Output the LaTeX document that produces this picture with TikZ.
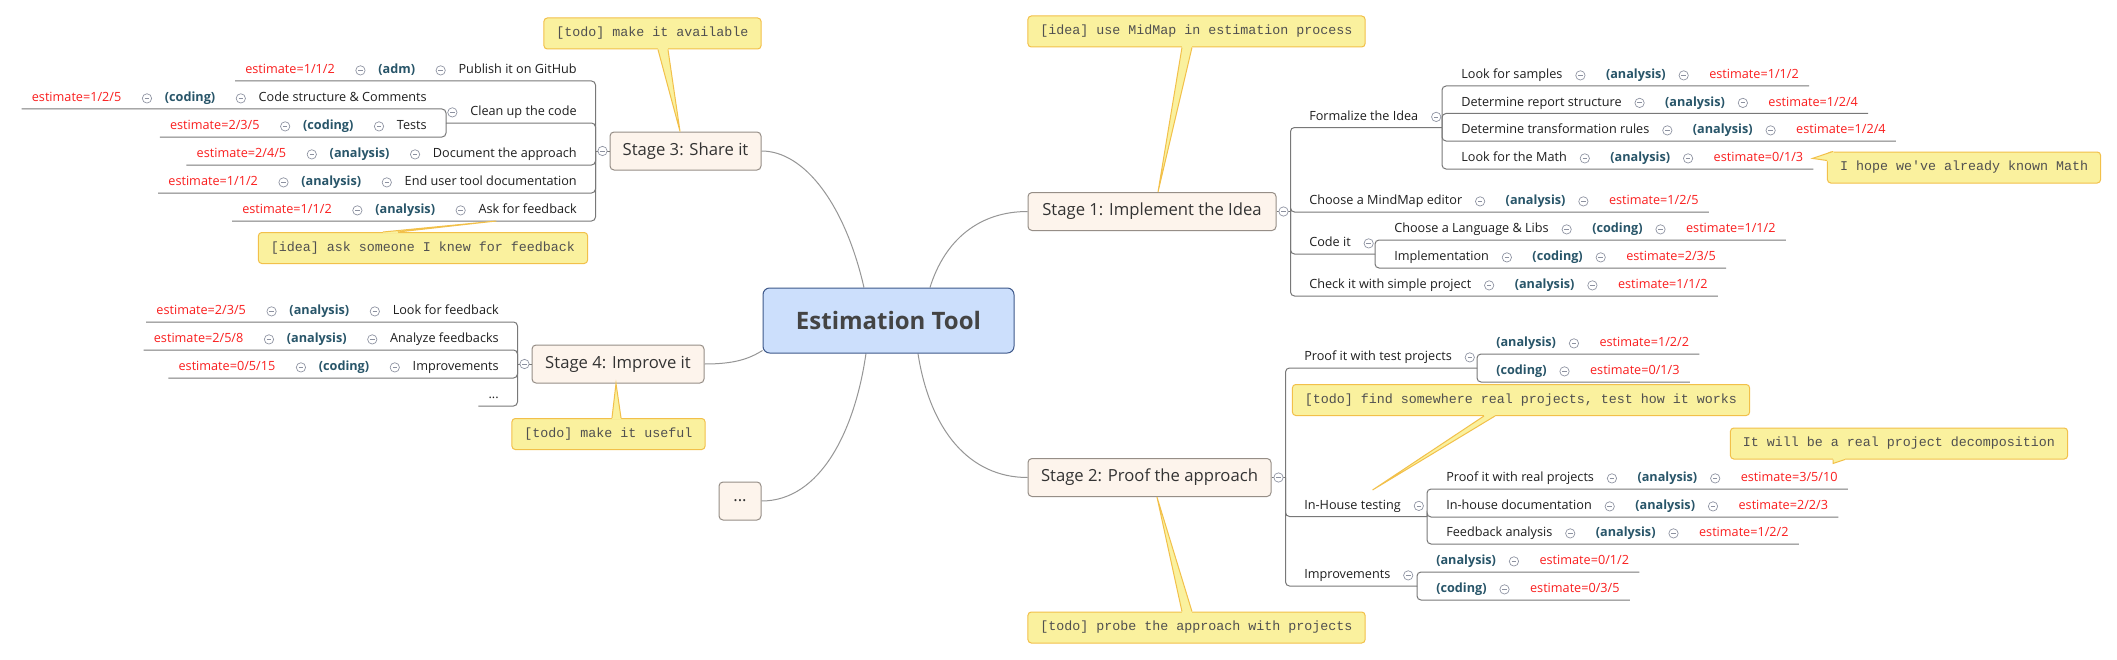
\documentclass[tikz,border=0pt]{standalone}
\usepackage{fontspec}
\setmainfont{Open Sans}
\setmonofont{Liberation Mono}
\usepackage{tikz}
\usetikzlibrary{positioning}
\usetikzlibrary{backgrounds}

\definecolor{centerfill}{RGB}{204,223,252}
\definecolor{centerbord}{RGB}{62,88,138}
\definecolor{centertext}{RGB}{68,68,68}
\definecolor{stagefill}{RGB}{253,244,236}
\definecolor{stagebord}{RGB}{150,142,135}
\definecolor{stagetext}{RGB}{51,51,51}
\definecolor{notefill}{RGB}{250,241,158}
\definecolor{notebord}{RGB}{242,192,74}
\definecolor{notetext}{RGB}{80,80,80}
\definecolor{tagcol}{RGB}{40,85,105}
\definecolor{estcol}{RGB}{250,30,30}
\definecolor{rowtext}{RGB}{30,30,30}
\definecolor{linecol}{RGB}{120,120,120}
\definecolor{linkcol}{RGB}{150,150,150}
\definecolor{btncol}{RGB}{140,145,160}

\tikzset{rowtxt/.style={font=\fontsize{9.5}{11}\selectfont, inner xsep=0pt, inner ysep=3.25pt,
  text height=7pt, text depth=2pt, text=rowtext}}
\tikzset{rowtag/.style={rowtxt, font=\fontsize{9.5}{11}\selectfont\bfseries, text=tagcol}}
\tikzset{rowest/.style={rowtxt, text=estcol}}
\tikzset{btn/.style={circle, draw=btncol, fill=white, line width=0.5pt, minimum size=7pt, inner sep=0pt,
  path picture={\draw[btncol, line width=0.6pt] ([xshift=-1.7pt]path picture bounding box.center)
  -- ([xshift=1.7pt]path picture bounding box.center);}}}
\tikzset{branch/.style={draw=linecol, line width=0.75pt, rounded corners=3pt}}
\tikzset{link/.style={draw=linkcol, line width=0.75pt}}
\tikzset{stagebox/.style={draw=stagebord, fill=stagefill, rounded corners=3pt, line width=0.75pt,
  font=\fontsize{12.5}{15}\selectfont, text=stagetext, minimum height=28.5pt, inner xsep=0pt}}
\tikzset{centerbox/.style={draw=centerbord, fill=centerfill, rounded corners=5pt, line width=0.75pt,
  minimum width=188.25pt, minimum height=48.75pt, font=\fontsize{18}{22}\selectfont\bfseries, text=centertext}}
\tikzset{notebox/.style={draw=notebord, fill=notefill, rounded corners=2.5pt, line width=0.75pt,
  font=\ttfamily\fontsize{10}{12}\selectfont, text=notetext, minimum height=23.25pt, inner xsep=9.4pt}}
\tikzset{notepin/.style={draw=notebord, line width=0.75pt}}

% one row of a branch on the left side: text, tag, estimate
\newcommand{\rowleft}[6]{%
  \node[rowtxt, anchor=south east] (t#1) at #2 {#3};
  \node[btn, left=9.5pt of t#1] (b#1) {};
  \node[rowtag, left=15.25pt of b#1] (g#1) {#4};
  \node[btn, left=9.5pt of g#1] (c#1) {};
  \node[rowest, left=15.25pt of c#1] (e#1) {#5};
  \draw[branch] ([xshift=-7.5pt]e#1.south west) -- (#6 |- e#1.south) -- (#6);
}
% one row on the right side
\newcommand{\rowright}[6]{%
  \node[rowtxt, anchor=south west] (t#1) at #2 {#3};
  \node[btn, right=9.5pt of t#1] (b#1) {};
  \node[rowtag, right=15.25pt of b#1] (g#1) {#4};
  \node[btn, right=9.5pt of g#1] (c#1) {};
  \node[rowest, right=15.25pt of c#1] (e#1) {#5};
  \draw[branch] ([xshift=7.5pt]e#1.south east) -- (#6 |- e#1.south) -- (#6);
}
% row with only a tag and an estimate
\newcommand{\tagright}[5]{%
  \node[rowtag, anchor=south west] (g#1) at #2 {#3};
  \node[btn, right=9.5pt of g#1] (c#1) {};
  \node[rowest, right=15.25pt of c#1] (e#1) {#4};
  \draw[branch] ([xshift=7.5pt]e#1.south east) -- (#5 |- e#1.south) -- (#5);
}
% pointer of a note: base a, base b, tip, shift into the note
\newcommand{\pin}[4]{%
  \fill[notefill] ([#4]#1) -- (#1) -- (#3) -- (#2) -- ([#4]#2) -- cycle;
  \draw[notepin] (#1) -- (#3) -- (#2);
}

\begin{document}
\begin{tikzpicture}[x=0.75pt,y=-0.75pt]
\useasboundingbox (0,0) rectangle (2117,660);

% topics
\node[centerbox] (C) at (888.5,320.5) {Estimation Tool};
\node[stagebox, minimum width=186pt] (S1) at (1152,211.5) {Stage 1: Implement the Idea};
\node[stagebox, minimum width=182.25pt] (S2) at (1149.5,477.5) {Stage 2: Proof the approach};
\node[stagebox, minimum width=113.25pt] (S3) at (685.5,151) {Stage 3: Share it};
\node[stagebox, minimum width=129pt] (S4) at (618,364) {Stage 4: Improve it};
\node[stagebox, minimum width=31.5pt] (S5) at (740,501) {...};

\begin{scope}[on background layer]
\fill[white] (0,0) rectangle (2117,660);
\draw[link] (S3.east) .. controls +(43,0) and +(-19,-83) .. ([xshift=-18.4pt]C.north);
\draw[link] ([xshift=31.1pt]C.north) .. controls +(15,-48) and +(-48,0) .. (S1.west);
\draw[link] (S4.east) .. controls +(31,0) and +(-13,8) .. ([yshift=2.25pt]C.south west);
\draw[link] (S5.east) .. controls +(59,0) and +(-11,77) .. ([xshift=-16.9pt]C.south);
\draw[link] ([xshift=22.1pt]C.south) .. controls +(12,77) and +(-58,0) .. (S2.west);
\end{scope}

% junctions
\coordinate (j1) at ([xshift=10.5pt]S1.east);
\coordinate (j2) at ([xshift=10.5pt]S2.east);
\coordinate (j3) at ([xshift=-10.5pt]S3.west);
\coordinate (j4) at ([xshift=-10.5pt]S4.west);
\draw[branch] (S1.east) -- (j1);
\draw[branch] (S2.east) -- (j2);
\draw[branch] (S3.west) -- (j3);
\draw[branch] (S4.west) -- (j4);
\node[btn] (b1) at ([xshift=5.25pt]S1.east) {};
\node[btn] (b2) at ([xshift=5.25pt]S2.east) {};
\node[btn] (b3) at ([xshift=-5.25pt]S3.west) {};
\node[btn] (b4) at ([xshift=-5.25pt]S4.west) {};

% Stage 3
\rowleft{31}{(577,81)}{Publish it on GitHub}{(adm)}{estimate=1/1/2}{j3}
\node[rowtxt, anchor=south east] (t32) at (577,123) {Clean up the code};
\node[btn, left=9.5pt of t32] (b32) {};
\coordinate (j32) at (446,123);
\draw[branch] (j32) -- (j3 |- j32) -- (j3);
\rowleft{321}{(427,109)}{Code structure \& Comments}{(coding)}{estimate=1/2/5}{j32}
\rowleft{322}{(427,137)}{Tests}{(coding)}{estimate=2/3/5}{j32}
\rowleft{33}{(577,165)}{Document the approach}{(analysis)}{estimate=2/4/5}{j3}
\rowleft{34}{(577,193)}{End user tool documentation}{(analysis)}{estimate=1/1/2}{j3}
\rowleft{35}{(577,221)}{Ask for feedback}{(analysis)}{estimate=1/1/2}{j3}

% Stage 4
\rowleft{41}{(499,322)}{Look for feedback}{(analysis)}{estimate=2/3/5}{j4}
\rowleft{42}{(499,350)}{Analyze feedbacks}{(analysis)}{estimate=2/5/8}{j4}
\rowleft{43}{(499,378)}{Improvements}{(coding)}{estimate=0/5/15}{j4}
\node[rowtxt, anchor=south east] (t44) at (499,406) {...};
\draw[branch] ([xshift=-7.5pt]t44.south west) -- (j4 |- t44.south) -- (j4);

% Stage 1
\node[rowtxt, anchor=south west] (t11) at (1309,127.5) {Formalize the Idea};
\node[btn, right=9.5pt of t11] (b11) {};
\coordinate (j11) at (1442,127.5);
\draw[branch] (j11) -- (j1 |- j11) -- (j1);
\rowright{111}{(1461,86)}{Look for samples}{(analysis)}{estimate=1/1/2}{j11}
\rowright{112}{(1461,113.5)}{Determine report structure}{(analysis)}{estimate=1/2/4}{j11}
\rowright{113}{(1461,141)}{Determine transformation rules}{(analysis)}{estimate=1/2/4}{j11}
\rowright{114}{(1461,169)}{Look for the Math}{(analysis)}{estimate=0/1/3}{j11}
\rowright{12}{(1309,212)}{Choose a MindMap editor}{(analysis)}{estimate=1/2/5}{j1}
\node[rowtxt, anchor=south west] (t13) at (1309,254) {Code it};
\node[btn, right=9.5pt of t13] (b13) {};
\coordinate (j13) at (1375,254);
\draw[branch] (j13) -- (j1 |- j13) -- (j1);
\rowright{131}{(1394,240)}{Choose a Language \& Libs}{(coding)}{estimate=1/1/2}{j13}
\rowright{132}{(1394,268)}{Implementation}{(coding)}{estimate=2/3/5}{j13}
\rowright{14}{(1309,296)}{Check it with simple project}{(analysis)}{estimate=1/1/2}{j1}

% Stage 2
\node[rowtxt, anchor=south west] (t21) at (1304,368) {Proof it with test projects};
\node[btn, right=9.5pt of t21] (b21) {};
\coordinate (j21) at (1477,368);
\draw[branch] (j21) -- (j2 |- j21) -- (j2);
\tagright{211}{(1496,354)}{(analysis)}{estimate=1/2/2}{j21}
\tagright{212}{(1496,382)}{(coding)}{estimate=0/1/3}{j21}
\node[rowtxt, anchor=south west] (t22) at (1304,516.5) {In-House testing};
\node[btn, right=9.5pt of t22] (b22) {};
\coordinate (j22) at (1427,516.5);
\draw[branch] (j22) -- (j2 |- j22) -- (j2);
\rowright{221}{(1446,489)}{Proof it with real projects}{(analysis)}{estimate=3/5/10}{j22}
\rowright{222}{(1446,517)}{In-house documentation}{(analysis)}{estimate=2/2/3}{j22}
\rowright{223}{(1446,544)}{Feedback analysis}{(analysis)}{estimate=1/2/2}{j22}
\node[rowtxt, anchor=south west] (t23) at (1304,586) {Improvements};
\node[btn, right=9.5pt of t23] (b23) {};
\coordinate (j23) at (1417,586);
\draw[branch] (j23) -- (j2 |- j23) -- (j2);
\tagright{231}{(1436,572)}{(analysis)}{estimate=0/1/2}{j23}
\tagright{232}{(1436,600)}{(coding)}{estimate=0/3/5}{j23}

% notes
\node[notebox] (n1) at (652.5,33.5) {[todo] make it available};
\node[notebox] (n2) at (423,248) {[idea] ask someone I knew for feedback};
\node[notebox] (n3) at (608.5,434) {[todo] make it useful};
\node[notebox] (n4) at (1196.5,31.5) {[idea] use MidMap in estimation process};
\node[notebox] (n5) at (1964,167.5) {I hope we've already known Math};
\node[notebox] (n6) at (1521,400) {[todo] find somewhere real projects, test how it works};
\node[notebox] (n7) at (1899,443.5) {It will be a real project decomposition};
\node[notebox] (n8) at (1196.5,627.5) {[todo] probe the approach with projects};

\coordinate (n1a) at ([xshift=4.1pt]n1.south);
\coordinate (n1b) at ([xshift=11.6pt]n1.south);
\coordinate (n2a) at ([xshift=-30pt]n2.north);
\coordinate (n2b) at ([xshift=-18.75pt]n2.north);
\coordinate (n3a) at ([xshift=2.6pt]n3.north);
\coordinate (n3b) at ([xshift=9.4pt]n3.north);
\coordinate (n4a) at ([xshift=-10.9pt]n4.south);
\coordinate (n4b) at ([xshift=-3.4pt]n4.south);
\coordinate (n5a) at ([xshift=4.5pt]n5.north west);
\coordinate (n5b) at ([yshift=-6.75pt]n5.north west);
\coordinate (n6a) at ([xshift=-27.75pt]n6.south);
\coordinate (n6b) at ([xshift=-19.5pt]n6.south);
\coordinate (n7a) at ([xshift=-49.5pt]n7.south);
\coordinate (n7b) at ([xshift=-40.5pt]n7.south);
\coordinate (n8a) at ([xshift=-10.9pt]n8.north);
\coordinate (n8b) at ([xshift=-3.4pt]n8.north);

\pin{n1a}{n1b}{[xshift=-4.1pt]S3.north}{yshift=1pt}
\pin{n2a}{n2b}{[xshift=13.5pt]t35.south west}{yshift=-1pt}
\pin{n3a}{n3b}{[xshift=-1.5pt]S4.south}{yshift=-1pt}
\pin{n4a}{n4b}{[xshift=4.5pt]S1.north}{yshift=1pt}
\pin{n5a}{n5b}{[xshift=6.75pt]e114.east}{xshift=1pt,yshift=-1pt}
\pin{n6a}{n6b}{[xshift=15pt,yshift=4pt]t22.north}{yshift=1pt}
\pin{n7a}{n7b}{[xshift=-49.5pt,yshift=-3pt]n7.south}{yshift=1pt}
\pin{n8a}{n8b}{[xshift=5.6pt]S2.south}{yshift=-1pt}
\end{tikzpicture}
\end{document}
